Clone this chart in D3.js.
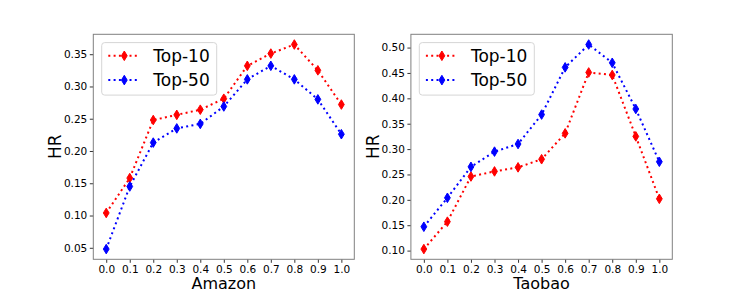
<!doctype html>
<html>
<head>
<script src="https://d3js.org/d3.v7.min.js"></script>
<style>
  body { margin: 0; background: #fff; }
  text { font-family: "DejaVu Sans", sans-serif; }
</style>
</head>
<body>
<svg width="747" height="292"></svg>
<script>
// data
var ratios = [0.0, 0.1, 0.2, 0.3, 0.4, 0.5, 0.6, 0.7, 0.8, 0.9, 1.0];
var xTicks = [0.0, 0.1, 0.2, 0.3, 0.4, 0.5, 0.6, 0.7, 0.8, 0.9, 1.0];

var amazonTop10 = [0.104, 0.158, 0.248, 0.256, 0.264, 0.281, 0.332, 0.351, 0.365, 0.325, 0.272];
var amazonTop50 = [0.048, 0.145, 0.213, 0.235, 0.242, 0.269, 0.311, 0.332, 0.311, 0.280, 0.226];
var amazonYTicks = [0.05, 0.10, 0.15, 0.20, 0.25, 0.30, 0.35];

var taobaoTop10 = [0.103, 0.157, 0.246, 0.256, 0.264, 0.280, 0.331, 0.451, 0.446, 0.325, 0.202];
var taobaoTop50 = [0.147, 0.204, 0.265, 0.295, 0.310, 0.368, 0.461, 0.506, 0.470, 0.379, 0.275];
var taobaoYTicks = [0.10, 0.15, 0.20, 0.25, 0.30, 0.35, 0.40, 0.45, 0.50];

var seriesNames = ["Top-10", "Top-50"];
var seriesColors = ["#ff0000", "#0000ff"];

var svg = d3.select("svg");

// thin diamond marker like matplotlib 'd'
var diamond = "M0,-4.8L2.9,0L0,4.8L-2.9,0Z";

function panel(left, top, w, h, title, s10, s50, yTicks) {
    var all = s10.concat(s50);
    var lo = d3.min(all), hi = d3.max(all), m = (hi - lo) * 0.05;
    var x = d3.scaleLinear().domain([-0.055, 1.055]).range([0, w]);
    var y = d3.scaleLinear().domain([lo - m, hi + m]).range([h, 0]);

    var g = svg.append("g").attr("transform", "translate(" + left + "," + top + ")");

    var xa = g.append("g")
        .attr("transform", "translate(0," + h + ")")
        .call(d3.axisBottom(x).tickValues(xTicks).tickFormat(d3.format(".1f")).tickSize(3.5).tickPadding(2.5));
    var ya = g.append("g")
        .call(d3.axisLeft(y).tickValues(yTicks).tickFormat(d3.format(".2f")).tickSize(3.5).tickPadding(2.5));
    [xa, ya].forEach(function (a) {
        a.select(".domain").remove();
        a.selectAll("line").attr("stroke", "#000").attr("stroke-width", 0.8);
        a.selectAll("text").attr("fill", "#000").style("font-size", "10.5px").style("font-family", "DejaVu Sans");
    });

    g.append("rect")
        .attr("width", w).attr("height", h)
        .attr("fill", "none").attr("stroke", "#808080").attr("stroke-width", 1);

    var line = d3.line()
        .x(function (d, i) { return x(ratios[i]); })
        .y(function (d) { return y(d); });

    [s10, s50].forEach(function (s, k) {
        g.append("path")
            .datum(s)
            .attr("d", line)
            .attr("fill", "none")
            .attr("stroke", seriesColors[k])
            .attr("stroke-width", 2)
            .attr("stroke-dasharray", "2,3.3");
        g.selectAll(".m" + k)
            .data(s)
            .enter()
            .append("path")
            .attr("d", diamond)
            .attr("transform", function (d, i) { return "translate(" + x(ratios[i]) + "," + y(d) + ")"; })
            .attr("fill", seriesColors[k])
            .attr("stroke", seriesColors[k])
            .attr("stroke-width", 1);
    });

    // legend
    var lg = g.append("g").attr("transform", "translate(8.4,8.3)");
    lg.append("rect")
        .attr("width", 115).attr("height", 52.5).attr("rx", 3)
        .attr("fill", "#fff").attr("fill-opacity", 0.8)
        .attr("stroke", "#d6d6d6").attr("stroke-width", 1);
    seriesNames.forEach(function (name, k) {
        var cy = 13.2 + k * 24.3;
        lg.append("line")
            .attr("x1", 6.6).attr("x2", 38.3).attr("y1", cy).attr("y2", cy)
            .attr("stroke", seriesColors[k]).attr("stroke-width", 2)
            .attr("stroke-dasharray", "2,3.3");
        lg.append("path")
            .attr("d", diamond)
            .attr("transform", "translate(22.6," + cy + ")")
            .attr("fill", seriesColors[k]).attr("stroke", seriesColors[k]);
        lg.append("text")
            .attr("x", 51.6).attr("y", cy).attr("dy", "0.36em")
            .style("font-size", "17px")
            .text(name);
    });

    // axis labels
    g.append("text")
        .attr("x", w / 2).attr("y", h + 29.5)
        .attr("text-anchor", "middle")
        .style("font-size", "16px")
        .text(title);
    g.append("text")
        .attr("text-anchor", "middle")
        .attr("transform", "translate(-32," + (h / 2) + ")rotate(-90)")
        .style("font-size", "17px")
        .text("HR");
}

panel(93.3, 34.3, 261, 225, "Amazon", amazonTop10, amazonTop50, amazonYTicks);
panel(410.9, 34.3, 261.4, 225, "Taobao", taobaoTop10, taobaoTop50, taobaoYTicks);
</script>
</body>
</html>
